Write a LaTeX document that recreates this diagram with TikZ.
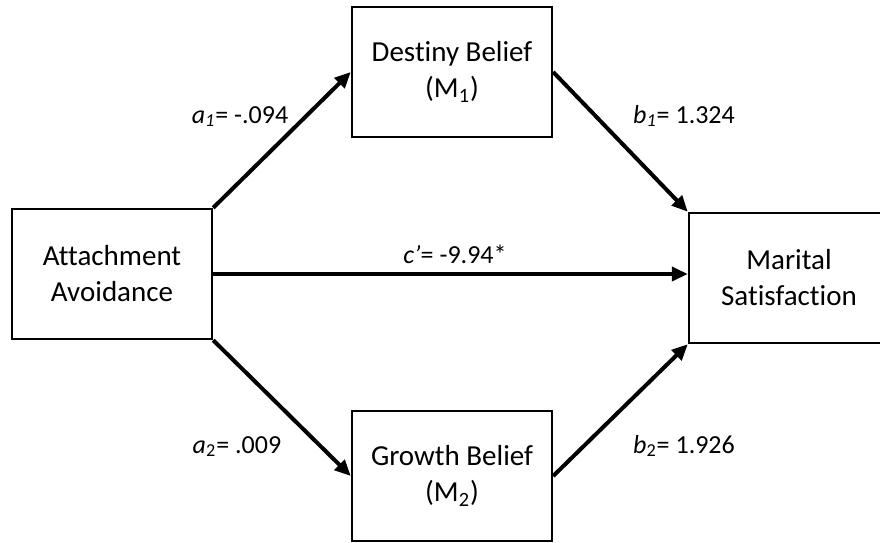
\documentclass[tikz,border=0pt]{standalone}
\usepackage{fontspec}
\setmainfont{Carlito}[Ligatures={NoCommon,NoRare}]
\usetikzlibrary{arrows.meta}
\tikzset{
  varbox/.style  = {draw, line width=1.2pt, minimum width=100pt, minimum height=65pt,
                    align=center, inner sep=0pt, font=\fontsize{14.5}{18}\selectfont},
  patharr/.style = {-{Triangle[length=8pt,width=7pt]}, line width=2pt},
  coeflbl/.style = {anchor=base, inner sep=0pt, font=\fontsize{13}{15}\selectfont}
}

\begin{document}
\begin{tikzpicture}[x=0.5pt,y=-0.5pt]
  \useasboundingbox (0,0) rectangle (880,542);
  \node[varbox] (avoid)   at (112,274) {Attachment\\Avoidance};
  \node[varbox] (destiny) at (452,72)  {Destiny Belief\\(M\textsubscript{1})};
  \node[varbox] (growth)  at (452,476) {Growth Belief\\(M\textsubscript{2})};
  \node[varbox] (marital) at (789,278) {Marital\\Satisfaction};
  % paths from X to the mediators and to Y
  \draw[patharr] (avoid.north east) -- (destiny.west);
  \draw[patharr] (avoid.south east) -- (growth.west);
  \draw[patharr] (avoid.east) -- (avoid.east -| marital.west);
  \draw[patharr] (destiny.east) -- (marital.north west);
  \draw[patharr] (growth.east) -- (marital.south west);
  % coefficients
  \node[coeflbl] (lblaone) at (240,123) {\textit{a}\textsubscript{\textit{1}}= -.094};
  \node[coeflbl] (lblatwo) at (237,453) {\textit{a}\textsubscript{2}= .009};
  \node[coeflbl] (lblc)    at (455,263) {\textit{c’}= -9.94*};
  \node[coeflbl] (lblbone) at (684,123) {\textit{b}\textsubscript{\textit{1}}= 1.324};
  \node[coeflbl] (lblbtwo) at (684,453) {\textit{b}\textsubscript{2}= 1.926};
\end{tikzpicture}
\end{document}
